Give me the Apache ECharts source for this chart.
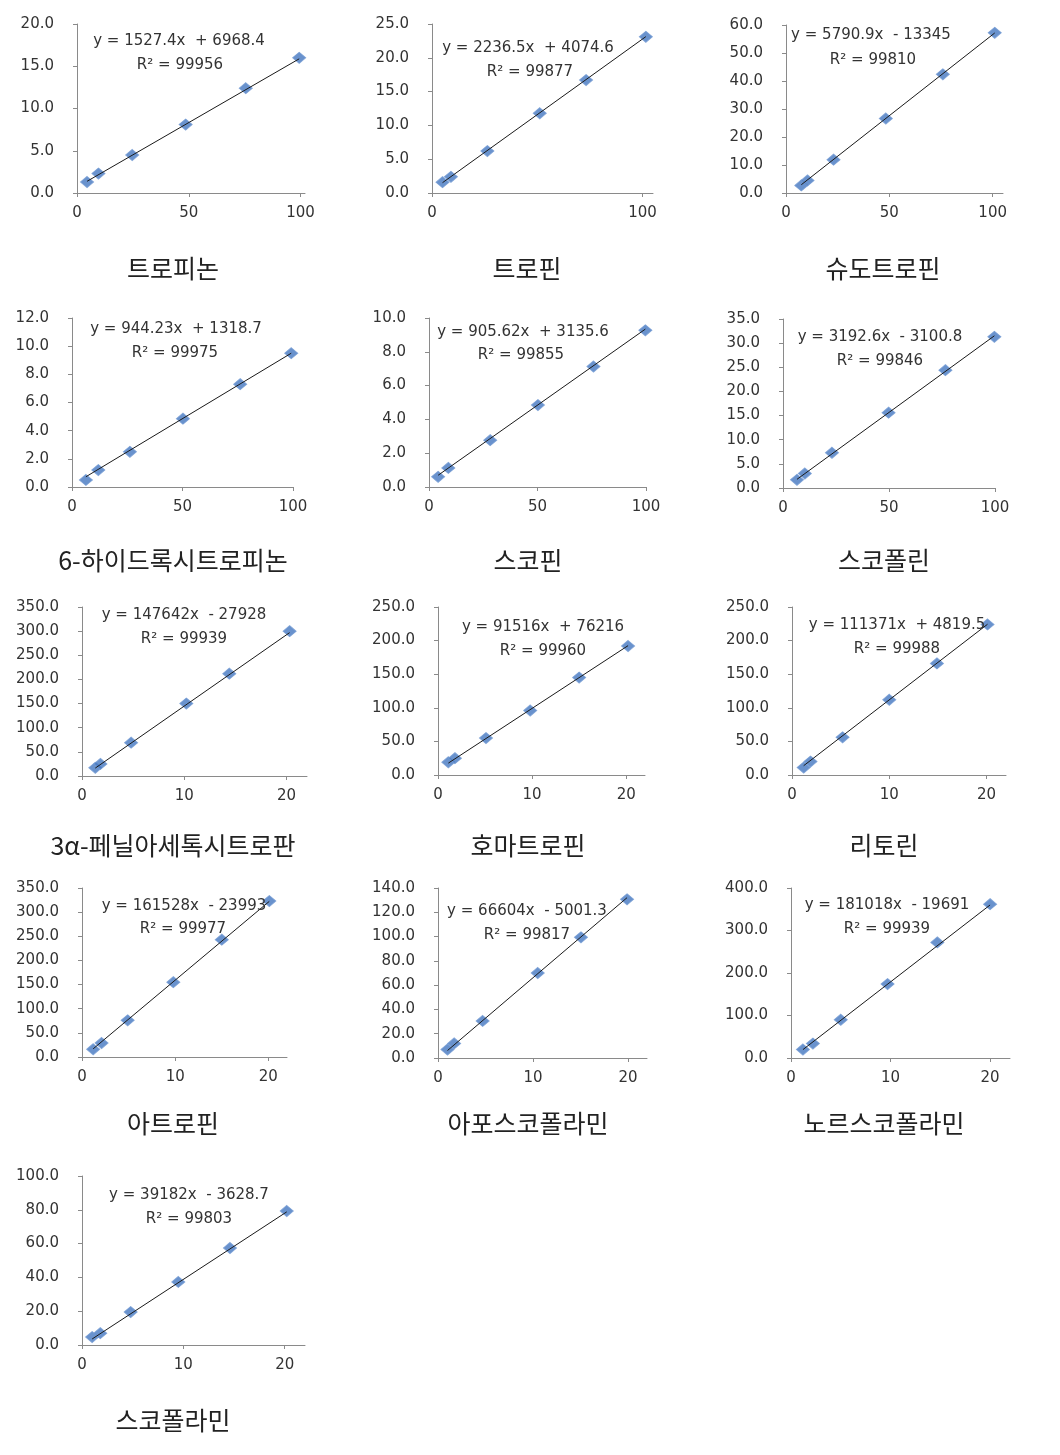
<!DOCTYPE html>
<html><head><meta charset="utf-8">
<script src="https://cdn.jsdelivr.net/npm/echarts@6/dist/echarts.min.js"></script>
<style>html,body{margin:0;padding:0;background:#fff}#c{width:1060px;height:1455px}</style>
</head><body><div id="c"></div>
<script>
// ---- data ----
const names = ['트로피논','트로핀','슈도트로핀','6-하이드록시트로피논','스코핀','스코폴린','3α-페닐아세톡시트로판','호마트로핀','리토린','아트로핀','아포스코폴라민','노르스코폴라민','스코폴라민'];
const xValues = [
  [4.5, 9.6, 24.7, 48.6, 75.5, 99.4],
  [5.0, 9.0, 26.3, 51.2, 73.2, 101.6],
  [7.4, 10.4, 23.0, 48.3, 75.9, 101.0],
  [6.3, 11.9, 26.2, 50.2, 76.1, 99.2],
  [4.2, 8.9, 28.2, 50.2, 75.8, 99.7],
  [6.6, 10.3, 23.1, 49.8, 76.6, 99.7],
  [1.3, 1.8, 4.8, 10.2, 14.4, 20.3],
  [1.1, 1.8, 5.1, 9.8, 15.0, 20.2],
  [1.2, 1.9, 5.2, 10.0, 14.9, 20.1],
  [1.2, 2.1, 4.9, 9.8, 15.0, 20.1],
  [1.0, 1.7, 4.7, 10.5, 15.05, 19.9],
  [1.2, 2.2, 5.0, 9.7, 14.7, 20.0],
  [1.0, 1.8, 4.8, 9.5, 14.6, 20.2]
];
const yValues = [
  [1.3, 2.3, 4.5, 8.1, 12.4, 16.0],
  [1.6, 2.4, 6.2, 11.8, 16.7, 23.1],
  [2.7, 4.5, 11.9, 26.6, 42.4, 57.2],
  [0.5, 1.2, 2.5, 4.85, 7.3, 9.5],
  [0.6, 1.13, 2.77, 4.85, 7.13, 9.27],
  [1.7, 3.0, 7.3, 15.6, 24.4, 31.3],
  [17, 25, 69, 150, 212, 300],
  [19, 25, 55, 96, 145, 192],
  [11, 20, 56, 112, 166, 224],
  [16, 29, 76, 155, 243, 323],
  [7, 12, 30.5, 70, 99.4, 130.7],
  [20, 34, 90, 174, 272, 362],
  [4.7, 7, 19.5, 37.3, 57.4, 79.3]
];
const slopes = [1527.4, 2236.5, 5790.9, 944.23, 905.62, 3192.6, 147642, 91516, 111371, 161528, 66604, 181018, 39182];
const intercepts = [6968.4, 4074.6, -13345, 1318.7, 3135.6, -3100.8, -27928, 76216, 4819.5, -23993, -5001.3, -19691, -3628.7];
const r2Values = ['99956','99877','99810','99975','99855','99846','99939','99960','99988','99977','99817','99939','99803'];
const yMaxes = [20, 25, 60, 12, 10, 35, 350, 250, 250, 350, 140, 400, 100];
const yIntervals = [5, 5, 10, 2, 2, 5, 50, 50, 50, 50, 20, 100, 20];
const xMaxes = [102, 105, 105, 100, 100, 100, 22, 22, 22, 22, 22, 22, 22];
const xTickLabels = [[0,50,100],[0,100],[0,50,100],[0,50,100],[0,50,100],[0,50,100],[0,10,20],[0,10,20],[0,10,20],[0,10,20],[0,10,20],[0,10,20],[0,10,20]];
const scaleDivisor = 10000;

// ---- layout (pixels) ----
const grids = [
  {left:77, top:24, width:228, height:169},
  {left:432, top:24, width:221, height:169},
  {left:786, top:25, width:217, height:168},
  {left:72, top:318, width:221, height:169},
  {left:429, top:318, width:217, height:169},
  {left:783, top:319, width:212, height:169},
  {left:82, top:607, width:225, height:169},
  {left:438, top:607, width:207, height:168},
  {left:792, top:607, width:214, height:168},
  {left:82, top:888, width:205, height:169},
  {left:438, top:888, width:209, height:170},
  {left:791, top:888, width:219, height:170},
  {left:82, top:1176, width:223, height:169}
];
const eqPos = [
  [179,41,180,65],[528,48,530,72],[871,35,873,60],
  [176,329,175,353],[523,332,521,355],[880,337,880,361],
  [184,615,184,639],[543,627,543,651],[897,625,897,649],
  [184,906,183,929],[527,911,527,935],[887,905,887,929],
  [189,1195,189,1219]
];
const titlePos = [
  [173,268],[527,268],[883,268],
  [173,560],[528,560],[884,560],
  [173,845],[528,845],[884,845],
  [173,1123],[528,1123],[884,1123],
  [173,1420]
];

const axisColor = '#8a8a8a';
const labelFont = {fontFamily:'DejaVu Sans', fontSize:15, color:'#333'};
const option = {
  backgroundColor:'#fff',
  animation:false,
  grid:[], xAxis:[], yAxis:[], series:[], graphic:[]
};
names.forEach((nm,i)=>{
  option.grid.push(Object.assign({containLabel:false}, grids[i]));
  option.xAxis.push({
    type:'value', gridIndex:i, min:0, max:xMaxes[i],
    splitLine:{show:false},
    axisLine:{show:true, onZero:false, lineStyle:{color:axisColor}},
    axisTick:{show:true, length:4, customValues:xTickLabels[i], lineStyle:{color:axisColor}},
    axisLabel:Object.assign({margin:13, customValues:xTickLabels[i]}, labelFont)
  });
  option.yAxis.push({
    type:'value', gridIndex:i, min:0, max:yMaxes[i], interval:yIntervals[i],
    splitLine:{show:false},
    axisLine:{show:true, lineStyle:{color:axisColor}},
    axisTick:{show:true, length:4, lineStyle:{color:axisColor}},
    axisLabel:Object.assign({margin:23, formatter:v=>v.toFixed(1)}, labelFont)
  });
  const pts = xValues[i].map((x,k)=>[x, yValues[i][k]]);
  option.series.push({
    type:'scatter', xAxisIndex:i, yAxisIndex:i, data:pts,
    symbol:'diamond', symbolSize:[13,11], z:2,
    itemStyle:{color:'#4477c0', borderColor:'#7098d2', borderWidth:1}
  });
  const xs = xValues[i];
  const xa = Math.min(...xs), xb = Math.max(...xs);
  const f = x => (slopes[i]*x + intercepts[i]) / scaleDivisor;
  option.series.push({
    type:'line', xAxisIndex:i, yAxisIndex:i, data:[[xa,f(xa)],[xb,f(xb)]],
    symbol:'none', z:3, lineStyle:{color:'#1a1a1a', width:1}
  });
  const b = intercepts[i];
  const eq = 'y = ' + slopes[i] + 'x  ' + (b < 0 ? '- ' : '+ ') + Math.abs(b);
  const p = eqPos[i];
  option.graphic.push({type:'text', z:10, style:{x:p[0], y:p[1], text:eq, align:'center', verticalAlign:'middle', font:'15px "DejaVu Sans"', fill:'#333'}});
  option.graphic.push({type:'text', z:10, style:{x:p[2], y:p[3], text:'R² = ' + r2Values[i], align:'center', verticalAlign:'middle', font:'15px "DejaVu Sans"', fill:'#333'}});
  const t = titlePos[i];
  option.graphic.push({type:'text', z:10, style:{x:t[0], y:t[1], text:nm, align:'center', verticalAlign:'middle', font:'25px "Noto Sans CJK KR"', fill:'#222'}});
});
const chart = echarts.init(document.getElementById('c'), null, {renderer:'canvas'});
chart.setOption(option);
</script></body></html>
